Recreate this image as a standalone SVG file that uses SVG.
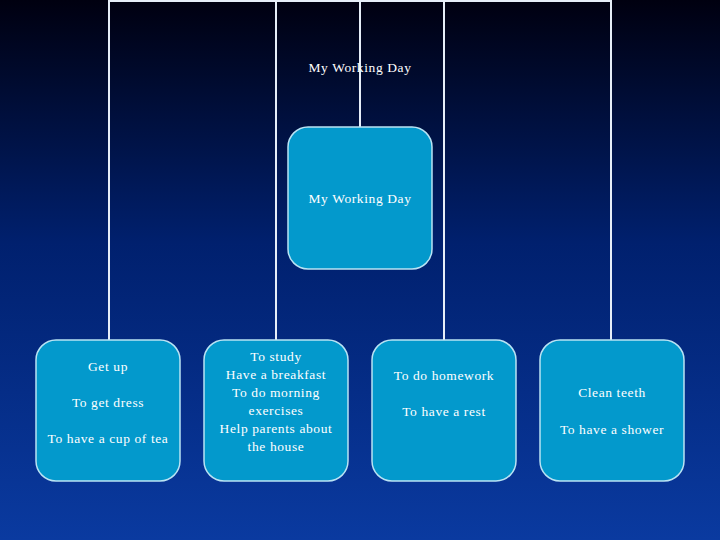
<svg xmlns="http://www.w3.org/2000/svg" width="720" height="540" viewBox="0 0 720 540">
<defs>
<linearGradient id="bg" x1="0" y1="0" x2="0" y2="1">
<stop offset="0" stop-color="#000010"/>
<stop offset="0.45" stop-color="#00206e"/>
<stop offset="1" stop-color="#0a3aa0"/>
</linearGradient>
</defs>
<style>
.box{fill:#0399cc;stroke:#b9e3f4;stroke-width:1.5}
.t{font-family:"Liberation Serif",serif;font-size:13.5px;letter-spacing:0.6px;fill:#ffffff;text-anchor:middle}
.c{fill:none;stroke:#e6eef8;stroke-width:2}
</style>
<rect width="720" height="540" fill="url(#bg)"/>
<g id="connectors">
<path class="c" d="M109 340V1H611V340M276 1V340M444 1V340M360 1V127"/>
</g>
<text class="t" x="360" y="72">My Working Day</text>
<g id="root">
<rect class="box" x="288" y="127" width="144" height="142" rx="20"/>
<text class="t" x="360" y="203">My Working Day</text>
</g>
<g id="n1">
<rect class="box" x="36" y="340" width="144" height="141" rx="20"/>
<text class="t" x="108" y="371">Get up</text>
<text class="t" x="108" y="407">To get dress</text>
<text class="t" x="108" y="443">To have a cup of tea</text>
</g>
<g id="n2">
<rect class="box" x="204" y="340" width="144" height="141" rx="20"/>
<text class="t" x="276" y="361">To study</text>
<text class="t" x="276" y="379">Have a breakfast</text>
<text class="t" x="276" y="397">To do morning</text>
<text class="t" x="276" y="415">exercises</text>
<text class="t" x="276" y="433">Help parents about</text>
<text class="t" x="276" y="451">the house</text>
</g>
<g id="n3">
<rect class="box" x="372" y="340" width="144" height="141" rx="20"/>
<text class="t" x="444" y="380">To do homework</text>
<text class="t" x="444" y="416">To have a rest</text>
</g>
<g id="n4">
<rect class="box" x="540" y="340" width="144" height="141" rx="20"/>
<text class="t" x="612" y="397">Clean teeth</text>
<text class="t" x="612" y="434">To have a shower</text>
</g>
</svg>
